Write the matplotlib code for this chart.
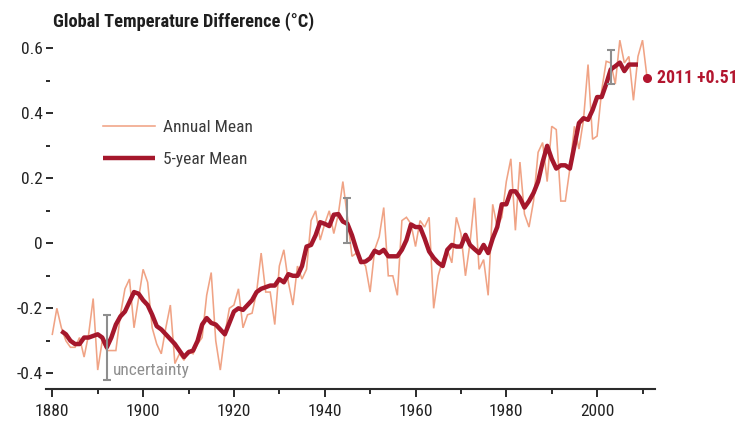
import matplotlib
matplotlib.use("Agg")
import matplotlib.pyplot as plt
from matplotlib import font_manager
from matplotlib.ticker import FixedLocator

# ---- data -------------------------------------------------------------
years = list(range(1880, 2012))
annual_mean = [
    -0.28, -0.20, -0.26, -0.30, -0.32, -0.32, -0.29, -0.35, -0.28, -0.17,   # 1880s
    -0.39, -0.30, -0.33, -0.33, -0.33, -0.22, -0.14, -0.11, -0.26, -0.17,   # 1890s
    -0.08, -0.12, -0.26, -0.31, -0.34, -0.26, -0.19, -0.37, -0.34, -0.36,   # 1900s
    -0.33, -0.34, -0.31, -0.29, -0.16, -0.09, -0.30, -0.39, -0.28, -0.20,   # 1910s
    -0.19, -0.14, -0.26, -0.22, -0.215, -0.15, -0.03, -0.15, -0.15, -0.25,  # 1920s
    -0.07, -0.02, -0.12, -0.19, -0.07, -0.11, -0.08, 0.07, 0.10, 0.01,      # 1930s
    0.06, 0.10, 0.03, 0.09, 0.19, 0.08, -0.04, -0.03, -0.05, -0.07,         # 1940s
    -0.15, -0.02, 0.02, 0.11, -0.10, -0.10, -0.16, 0.07, 0.08, 0.06,        # 1950s
    -0.01, 0.07, 0.05, 0.08, -0.20, -0.10, -0.05, -0.02, -0.06, 0.08,       # 1960s
    0.03, -0.10, 0.00, 0.14, -0.08, -0.05, -0.16, 0.12, 0.05, 0.08,         # 1970s
    0.19, 0.26, 0.04, 0.25, 0.09, 0.05, 0.13, 0.28, 0.31, 0.19,             # 1980s
    0.36, 0.35, 0.13, 0.13, 0.23, 0.36, 0.29, 0.38, 0.55, 0.32,             # 1990s
    0.33, 0.47, 0.56, 0.555, 0.49, 0.625, 0.555, 0.575, 0.44, 0.575,        # 2000s
    0.625, 0.51,                                                            # 2010-2011
]

five_year_years = list(range(1882, 2010))
five_year_mean = [
    -0.27, -0.28, -0.30, -0.31, -0.31, -0.29, -0.29, -0.285,                # 1882-1889
    -0.28, -0.29, -0.32, -0.29, -0.25, -0.225, -0.21, -0.18, -0.15, -0.155, # 1890s
    -0.175, -0.19, -0.22, -0.255, -0.265, -0.28, -0.295, -0.31, -0.33, -0.35,
    -0.335, -0.33, -0.30, -0.25, -0.23, -0.245, -0.25, -0.265, -0.28, -0.245,
    -0.21, -0.20, -0.205, -0.19, -0.175, -0.15, -0.14, -0.135, -0.13, -0.13,
    -0.11, -0.12, -0.095, -0.10, -0.10, -0.07, -0.01, -0.005, 0.025, 0.065,
    0.06, 0.053, 0.088, 0.09, 0.067, 0.06, 0.025, -0.02, -0.058, -0.056,
    -0.046, -0.023, -0.03, -0.02, -0.04, -0.04, -0.04, -0.02, 0.01, 0.058,
    0.05, 0.05, 0.015, -0.025, -0.045, -0.06, -0.07, -0.02, -0.005, -0.01,
    -0.01, 0.026, -0.005, -0.018, -0.03, -0.005, -0.03, 0.015, 0.05, 0.12,
    0.12, 0.16, 0.16, 0.14, 0.11, 0.13, 0.155, 0.19, 0.25, 0.30,
    0.26, 0.23, 0.24, 0.24, 0.23, 0.30, 0.37, 0.385, 0.38, 0.41,
    0.45, 0.45, 0.49, 0.535, 0.545, 0.556, 0.53, 0.55, 0.55, 0.55,
]

uncertainty_years = [1892, 1945, 2003]
uncertainty_center = [-0.32, 0.07, 0.543]
uncertainty_halfwidth = [0.10, 0.07, 0.052]

latest_year = 2011
latest_value = 0.51

x_major_ticks = [1880, 1900, 1920, 1940, 1960, 1980, 2000]
x_minor_ticks = [1890, 1910, 1930, 1950, 1970, 1990, 2010]
y_major_ticks = [-0.4, -0.2, 0.0, 0.2, 0.4, 0.6]
y_major_labels = ["-0.4", "-0.2", "0", "0.2", "0.4", "0.6"]
y_minor_ticks = [-0.3, -0.1, 0.1, 0.3, 0.5]

# ---- style ------------------------------------------------------------
available = {f.name for f in font_manager.fontManager.ttflist}
narrow = next((n for n in ["Liberation Sans Narrow", "Roboto Condensed",
                           "Open Sans Condensed", "Liberation Sans"]
               if n in available), "DejaVu Sans")
plt.rcParams["font.family"] = [narrow, "DejaVu Sans"]

ANNUAL_COLOR = "#f0a385"
MEAN_COLOR = "#a5172c"
LABEL_COLOR = "#b3162f"
GRAY = "#8e8e8e"
AXIS_COLOR = "#2b2b2b"

W, H = 740, 425
fig = plt.figure(figsize=(W / 100, H / 100), dpi=100)
left_px, right_px, top_px, axis_px = 46, 655, 28, 389
ax = fig.add_axes([left_px / W, (H - axis_px) / H,
                   (right_px - left_px) / W, (axis_px - top_px) / H])

ax.set_xlim(1878.61, 2012.75)
ax.set_ylim(-0.4483, 0.6625)

# series
ax.plot(years, annual_mean, color=ANNUAL_COLOR, lw=1.15, zorder=2,
        label="Annual Mean", solid_joinstyle="miter")
ax.plot(five_year_years, five_year_mean, color=MEAN_COLOR, lw=3.2, zorder=3,
        label="5-year Mean", solid_joinstyle="round", solid_capstyle="butt")

# uncertainty bars
ax.errorbar(uncertainty_years, uncertainty_center, yerr=uncertainty_halfwidth,
            fmt="none", ecolor=GRAY, elinewidth=1.5, capsize=3.0, capthick=1.5,
            zorder=4)
ax.text(uncertainty_years[0] + 1.3, -0.39, "uncertainty", color=GRAY,
        fontsize=12.5, va="center", ha="left", zorder=5)

# latest value marker and label
ax.plot([latest_year], [latest_value], "o", color=LABEL_COLOR, ms=5.5,
        zorder=5, clip_on=False)
ax.annotate(f"{latest_year} +{latest_value:.2f}", (latest_year, latest_value),
            xytext=(7, 0), textcoords="offset points", color=LABEL_COLOR,
            fontsize=12.8, fontweight="bold", va="center", ha="left",
            annotation_clip=False)

# axes
for side in ("top", "right", "left"):
    ax.spines[side].set_visible(False)
ax.spines["bottom"].set_color(AXIS_COLOR)
ax.spines["bottom"].set_linewidth(1.5)

ax.xaxis.set_major_locator(FixedLocator(x_major_ticks))
ax.xaxis.set_minor_locator(FixedLocator(x_minor_ticks))
ax.set_xticklabels([str(y) for y in x_major_ticks])
ax.tick_params(axis="x", which="major", direction="out", length=6,
               width=1.4, color=AXIS_COLOR, labelsize=12.5,
               labelcolor="#222222", pad=5)
ax.tick_params(axis="x", which="minor", direction="out", length=3.8,
               width=1.4, color=AXIS_COLOR)

ax.yaxis.set_major_locator(FixedLocator(y_major_ticks))
ax.yaxis.set_minor_locator(FixedLocator(y_minor_ticks))
ax.set_yticklabels(y_major_labels)
ax.tick_params(axis="y", which="major", direction="in", length=5,
               width=1.4, color=AXIS_COLOR, labelsize=12.5,
               labelcolor="#222222", pad=2.5)
ax.tick_params(axis="y", which="minor", direction="in", length=3,
               width=1.4, color=AXIS_COLOR)

# legend
ax.legend(loc="upper left", bbox_to_anchor=(0.094, 0.745), frameon=False,
          fontsize=12.5, handlelength=3.0, handletextpad=0.45,
          labelspacing=0.95, borderpad=0, borderaxespad=0,
          labelcolor="#3a3a3a")

# title
fig.text(53 / W, 1 - 22 / H, "Global Temperature Difference (°C)",
         fontsize=13.2, fontweight="bold", color="#1e1e1e",
         ha="left", va="center")

fig.savefig("out.png", dpi=100)
